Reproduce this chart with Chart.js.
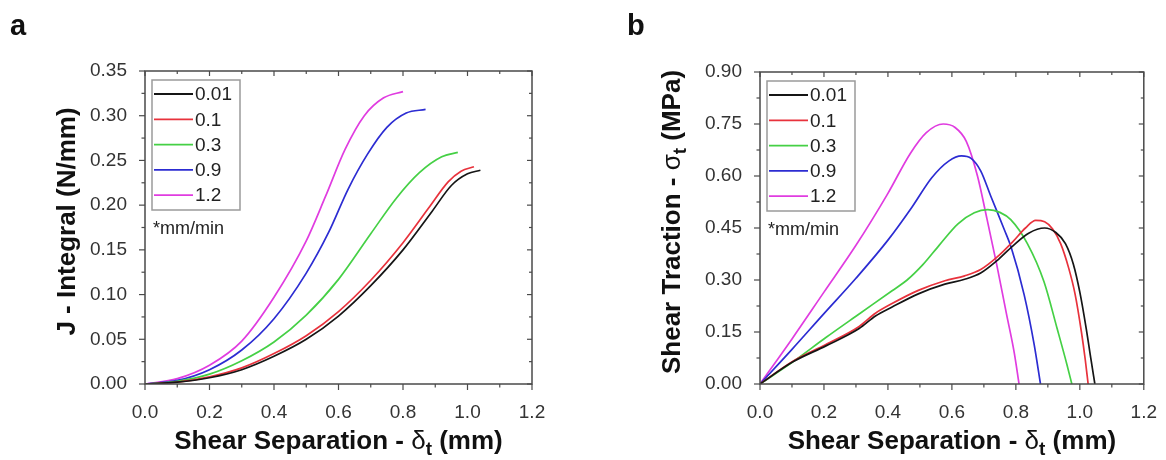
<!DOCTYPE html>
<html><head><meta charset="utf-8">
<script src="https://cdn.jsdelivr.net/npm/chart.js@4.4.1/dist/chart.umd.min.js"></script>
<style>
html,body{margin:0;padding:0;background:#fff;}
#wrap{position:relative;width:1166px;height:460px;overflow:hidden;background:#fff;}
canvas{position:absolute;top:0;}
</style></head><body>
<div id="wrap">
<canvas id="ca" width="583" height="460" style="left:0px"></canvas>
<canvas id="cb" width="583" height="460" style="left:583px"></canvas>
</div>
<script>
// ---------- data ----------
const rateLabels = ['0.01', '0.1', '0.3', '0.9', '1.2'];
const xTickValues = [0, 0.2, 0.4, 0.6, 0.8, 1.0, 1.2];
const yTickValuesA = [0, 0.05, 0.10, 0.15, 0.20, 0.25, 0.30, 0.35];
const yTickValuesB = [0, 0.15, 0.30, 0.45, 0.60, 0.75, 0.90];

// Panel a : J-integral (N/mm) vs shear separation (mm)
const aX_001 = [0, 0.1, 0.2, 0.3, 0.4, 0.5, 0.6, 0.7, 0.8, 0.89, 0.95, 1.00, 1.04];
const aY_001 = [0, 0.002, 0.007, 0.016, 0.031, 0.050, 0.076, 0.110, 0.150, 0.193, 0.222, 0.235, 0.239];
const aX_01  = [0, 0.1, 0.2, 0.3, 0.4, 0.5, 0.6, 0.7, 0.8, 0.88, 0.94, 0.98, 1.02];
const aY_01  = [0, 0.002, 0.008, 0.018, 0.034, 0.054, 0.081, 0.116, 0.158, 0.197, 0.226, 0.238, 0.243];
const aX_03  = [0, 0.1, 0.2, 0.3, 0.4, 0.5, 0.6, 0.7, 0.78, 0.85, 0.92, 0.97];
const aY_03  = [0, 0.003, 0.011, 0.026, 0.047, 0.077, 0.117, 0.168, 0.208, 0.236, 0.254, 0.259];
const aX_09  = [0, 0.1, 0.2, 0.3, 0.4, 0.5, 0.57, 0.63, 0.69, 0.75, 0.81, 0.87];
const aY_09  = [0, 0.004, 0.016, 0.038, 0.073, 0.124, 0.170, 0.218, 0.257, 0.287, 0.303, 0.307];
const aX_12  = [0, 0.1, 0.2, 0.3, 0.4, 0.5, 0.56, 0.62, 0.68, 0.74, 0.80];
const aY_12  = [0, 0.006, 0.021, 0.048, 0.097, 0.160, 0.210, 0.262, 0.300, 0.320, 0.327];

// Panel b : shear traction (MPa) vs shear separation (mm)
const bX_001 = [0, 0.103, 0.206, 0.31, 0.361, 0.413, 0.495, 0.578, 0.64, 0.69, 0.74, 0.79, 0.84, 0.89, 0.925, 0.955, 0.98, 1.0, 1.02, 1.035, 1.047];
const bY_001 = [0, 0.064, 0.110, 0.160, 0.196, 0.222, 0.260, 0.288, 0.302, 0.320, 0.355, 0.398, 0.435, 0.450, 0.437, 0.405, 0.345, 0.265, 0.160, 0.070, 0];
const bX_01  = [0, 0.103, 0.206, 0.31, 0.361, 0.413, 0.495, 0.578, 0.64, 0.69, 0.74, 0.79, 0.83, 0.862, 0.89, 0.915, 0.94, 0.965, 0.985, 1.005, 1.017, 1.026];
const bY_01  = [0, 0.066, 0.114, 0.166, 0.204, 0.232, 0.270, 0.298, 0.312, 0.330, 0.365, 0.410, 0.450, 0.472, 0.468, 0.447, 0.405, 0.335, 0.260, 0.150, 0.070, 0];
const bX_03  = [0, 0.103, 0.206, 0.31, 0.413, 0.46, 0.51, 0.56, 0.619, 0.67, 0.712, 0.75, 0.784, 0.836, 0.888, 0.929, 0.96, 0.975];
const bY_03  = [0, 0.064, 0.134, 0.202, 0.269, 0.300, 0.345, 0.400, 0.462, 0.494, 0.503, 0.495, 0.474, 0.405, 0.295, 0.160, 0.055, 0];
const bX_09  = [0, 0.1, 0.2, 0.3, 0.4, 0.475, 0.537, 0.59, 0.63, 0.66, 0.69, 0.722, 0.764, 0.785, 0.826, 0.857, 0.877];
const bY_09  = [0, 0.100, 0.203, 0.305, 0.415, 0.510, 0.595, 0.643, 0.658, 0.651, 0.615, 0.541, 0.445, 0.395, 0.257, 0.115, 0];
const bX_12  = [0, 0.1, 0.2, 0.3, 0.4, 0.47, 0.52, 0.573, 0.61, 0.645, 0.68, 0.71, 0.74, 0.77, 0.795, 0.81];
const bY_12  = [0, 0.130, 0.265, 0.400, 0.550, 0.665, 0.725, 0.750, 0.740, 0.700, 0.600, 0.475, 0.345, 0.205, 0.090, 0];

// ---------- styles ----------
const seriesColors = ['#151515', '#e8323c', '#45d045', '#2c2cd2', '#e03ce0'];
const FONT = "'Liberation Sans', Arial, Helvetica, sans-serif";
const AXIS_COLOR = '#4a4a4a';
const TICK_TEXT = '#333333';

function makeDatasets(xsList, ysList) {
  return rateLabels.map((lab, i) => ({
    label: lab,
    data: xsList[i].map((x, k) => ({ x: x, y: ysList[i][k] })),
    borderColor: seriesColors[i],
    backgroundColor: seriesColors[i],
    borderWidth: 1.7,
    pointRadius: 0,
    pointHoverRadius: 0,
    fill: false,
    showLine: true,
    cubicInterpolationMode: 'monotone'
  }));
}

function drawRich(ctx, parts, cx, cy, size) {
  // parts: [text, kind] kind: 0 normal bold, 1 subscript, 2 greek (regular)
  const fonts = [
    'bold ' + size + 'px ' + FONT,
    'bold ' + Math.round(size * 0.72) + 'px ' + FONT,
    size + 'px ' + FONT
  ];
  let total = 0;
  parts.forEach(p => { ctx.font = fonts[p[1]]; total += ctx.measureText(p[0]).width; });
  let x = cx - total / 2;
  ctx.textBaseline = 'middle';
  ctx.textAlign = 'left';
  parts.forEach(p => {
    ctx.font = fonts[p[1]];
    ctx.fillText(p[0], x, p[1] === 1 ? cy + size * 0.28 : cy);
    x += ctx.measureText(p[0]).width;
  });
}

const decorPlugin = {
  id: 'decor',
  afterDatasetsDraw(chart, args, o) {
    const ctx = chart.ctx, ca = chart.chartArea;
    const xs = chart.scales.x, ys = chart.scales.y;
    ctx.save();
    ctx.strokeStyle = AXIS_COLOR;
    ctx.lineWidth = 1.5;
    ctx.strokeRect(ca.left, ca.top, ca.right - ca.left, ca.bottom - ca.top);
    ctx.lineWidth = 1.2;
    const seg = (x1, y1, x2, y2) => { ctx.beginPath(); ctx.moveTo(x1, y1); ctx.lineTo(x2, y2); ctx.stroke(); };
    const xt = o.xTicks, yt = o.yTicks;
    xt.forEach((v, i) => {
      const p = xs.getPixelForValue(v);
      seg(p, ca.bottom, p, ca.bottom + 6);
      seg(p, ca.top, p, ca.top + 5);
      if (i < xt.length - 1) {
        const m = xs.getPixelForValue((v + xt[i + 1]) / 2);
        seg(m, ca.bottom, m, ca.bottom + 3.5);
        seg(m, ca.top, m, ca.top + 3);
      }
    });
    yt.forEach((v, i) => {
      const p = ys.getPixelForValue(v);
      seg(ca.left - 6, p, ca.left, p);
      seg(ca.right - 5, p, ca.right, p);
      if (i < yt.length - 1) {
        const m = ys.getPixelForValue((v + yt[i + 1]) / 2);
        seg(ca.left - 3.5, m, ca.left, m);
        seg(ca.right - 3, m, ca.right, m);
      }
    });
    // legend box
    const bx = ca.left + 7, by = ca.top + 9, bw = 88, bh = 130;
    ctx.fillStyle = '#ffffff';
    ctx.fillRect(bx, by, bw, bh);
    ctx.strokeStyle = '#9a9a9a';
    ctx.lineWidth = 1.5;
    ctx.strokeRect(bx, by, bw, bh);
    ctx.font = '19px ' + FONT;
    ctx.textBaseline = 'middle';
    ctx.textAlign = 'left';
    chart.data.datasets.forEach((ds, i) => {
      const yy = by + 14 + i * 25.3;
      ctx.strokeStyle = ds.borderColor;
      ctx.lineWidth = 1.8;
      seg(bx + 2, yy, bx + 41, yy);
      ctx.fillStyle = '#222';
      ctx.fillText(ds.label, bx + 43, yy + 1);
    });
    ctx.fillStyle = '#222';
    ctx.font = '18px ' + FONT;
    ctx.fillText('*mm/min', ca.left + 8, by + 149);
    // axis titles
    ctx.fillStyle = '#111';
    drawRich(ctx, o.xTitle, (ca.left + ca.right) / 2, 442, 26);
    ctx.save();
    ctx.translate(o.yTitleX, (ca.top + ca.bottom) / 2 - 6);
    ctx.rotate(-Math.PI / 2);
    drawRich(ctx, o.yTitle, 0, 0, 26);
    ctx.restore();
    // panel letter
    ctx.font = 'bold 29px ' + FONT;
    ctx.textBaseline = 'alphabetic';
    ctx.fillStyle = '#111';
    ctx.fillText(o.letter, o.letterX, 35);
    ctx.restore();
  }
};

function makeChart(id, xsList, ysList, yTicks, cfg) {
  return new Chart(document.getElementById(id), {
    type: 'scatter',
    data: { datasets: makeDatasets(xsList, ysList) },
    plugins: [decorPlugin],
    options: {
      responsive: false,
      animation: false,
      events: [],
      layout: { padding: { left: 0, top: cfg.top, right: cfg.right, bottom: 0 } },
      plugins: {
        legend: { display: false },
        tooltip: { enabled: false },
        decor: {
          xTicks: xTickValues, yTicks: yTicks,
          xTitle: [['Shear Separation - ', 0], ['δ', 2], ['t', 1], [' (mm)', 0]],
          yTitle: cfg.yTitle, yTitleX: cfg.yTitleX,
          letter: cfg.letter, letterX: cfg.letterX
        }
      },
      scales: {
        x: {
          type: 'linear', min: 0, max: 1.2,
          grid: { display: false },
          border: { display: false },
          afterBuildTicks: s => { s.ticks = xTickValues.map(v => ({ value: v })); },
          afterFit: s => { s.height = 76; },
          ticks: {
            autoSkip: false, maxRotation: 0, padding: 9,
            color: TICK_TEXT, font: { family: FONT, size: 19 },
            callback: v => Number(v).toFixed(1)
          }
        },
        y: {
          type: 'linear', min: 0, max: yTicks[yTicks.length - 1],
          grid: { display: false },
          border: { display: false },
          afterBuildTicks: s => { s.ticks = yTicks.map(v => ({ value: v })); },
          afterFit: s => { s.width = cfg.left; },
          ticks: {
            autoSkip: false, padding: 10,
            color: TICK_TEXT, font: { family: FONT, size: 19 },
            callback: v => Number(v).toFixed(2)
          }
        }
      }
    }
  });
}

makeChart('ca', [aX_001, aX_01, aX_03, aX_09, aX_12], [aY_001, aY_01, aY_03, aY_09, aY_12], yTickValuesA, {
  top: 71, right: 51, left: 145,
  yTitle: [['J - Integral (N/mm)', 0]], yTitleX: 68,
  letter: 'a', letterX: 10
});
makeChart('cb', [bX_001, bX_01, bX_03, bX_09, bX_12], [bY_001, bY_01, bY_03, bY_09, bY_12], yTickValuesB, {
  top: 72, right: 18, left: 177,
  yTitle: [['Shear Traction - ', 0], ['σ', 2], ['t', 1], [' (MPa)', 0]], yTitleX: 90,
  letter: 'b', letterX: 44
});
</script>
</body></html>
